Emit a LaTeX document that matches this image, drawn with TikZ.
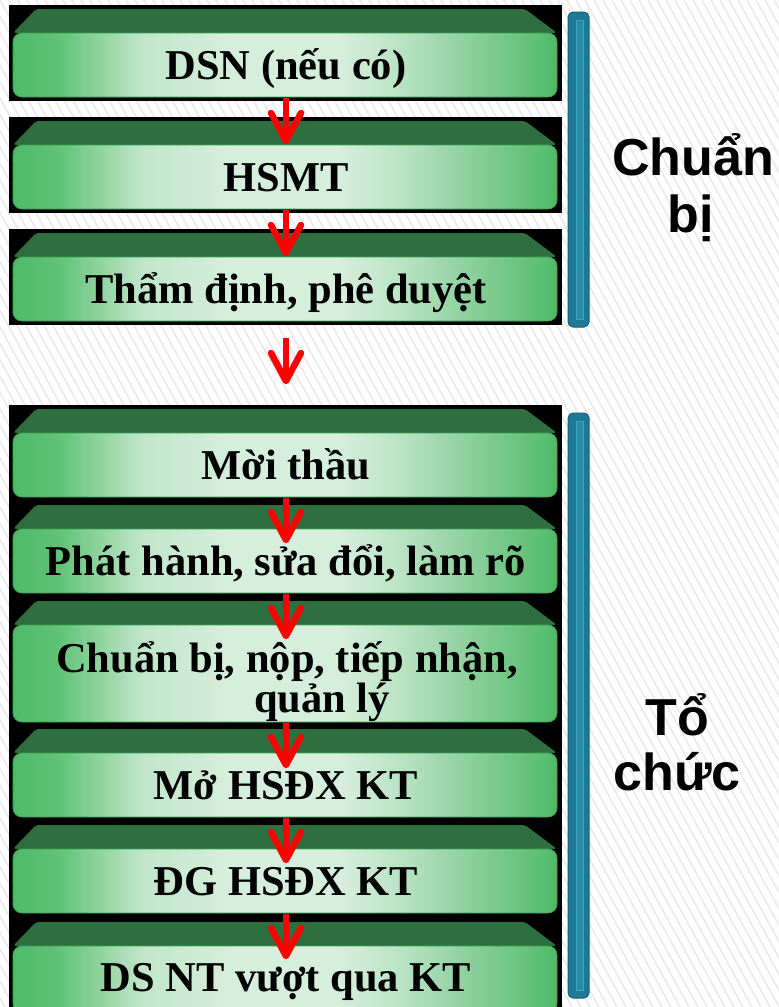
\documentclass[tikz,border=0pt]{standalone}
\usepackage{fontspec}
\setmainfont{Liberation Serif}
\newfontfamily\labfont{Liberation Sans}
\usetikzlibrary{calc}
\definecolor{gEdge}{RGB}{78,187,104}
\definecolor{gMid}{RGB}{140,208,156}
\definecolor{gLight}{RGB}{214,238,220}
\definecolor{gDark}{RGB}{45,111,63}
\definecolor{gLine}{RGB}{62,160,86}
\definecolor{hatchGray}{RGB}{234,234,234}
\definecolor{barTeal}{RGB}{31,121,149}
\definecolor{barDark}{RGB}{24,98,122}
\definecolor{barInner}{RGB}{38,138,168}
\definecolor{barInnerLine}{RGB}{60,165,196}
\definecolor{arrowRed}{RGB}{255,0,0}
\pgfdeclarehorizontalshading{frontshade}{100bp}{%
  color(0bp)=(gEdge); color(25bp)=(gEdge); color(29bp)=(gEdge!88!gLight);
  color(37bp)=(gLight!85!gEdge); color(45bp)=(gLight); color(55bp)=(gLight);
  color(60bp)=(gLight!82!gEdge); color(67bp)=(gMid); color(75bp)=(gEdge); color(100bp)=(gEdge)}
\newcommand\gbox[2]{%
  \fill[topface] (13,#1+24) -- (36,#1) -- (525,#1) -- (557,#1+24) -- cycle;
  \shadedraw[frontface] (13,#1+24) rectangle (557,#2);
}
\begin{document}
\begin{tikzpicture}[x=1pt,y=-1pt,
  topface/.style={fill=gDark, rounded corners=3pt},
  frontface/.style={shading=frontshade, draw=gLine, line width=0.8pt, rounded corners=9pt},
  boxtext/.style={font=\bfseries\fontsize{42.5}{40}\selectfont, anchor=base, inner sep=0pt, text=black},
  labtext/.style={font=\labfont\bfseries\fontsize{52}{57}\selectfont, anchor=base, inner sep=0pt, text=black},
  hatch/.style={draw=hatchGray, line width=1.6pt},
  shaft/.style={draw=arrowRed, line width=6.5pt},
  head/.style={draw=arrowRed, line width=6.5pt, line cap=round, line join=round},
  barout/.style={fill=barTeal, draw=barDark, line width=1pt, rounded corners=5pt},
  barin/.style={fill=barInner, draw=barInnerLine, line width=1pt}]
\useasboundingbox (0,0) rectangle (779,1007);
\fill[white] (0,0) rectangle (779,1007);
\begin{scope}
  \clip (0,0) rectangle (779,1007);
  \foreach \k in {-65,...,90} {
    \draw[hatch] (\k*9,0) -- (\k*9+554,1007);
  }
\end{scope}
% black backgrounds
\fill[black] (9,5) rectangle (562,101);
\fill[black] (9,117) rectangle (562,213);
\fill[black] (9,229) rectangle (562,325);
\fill[black] (9,405) rectangle (562,1012);
% boxes
\gbox{9}{97}
\gbox{121}{209}
\gbox{233}{321}
\gbox{409}{497}
\gbox{505}{593}
\gbox{601}{722}
\gbox{729}{817}
\gbox{825}{913}
\gbox{922}{1012}
% texts
\node[boxtext] (t1) at (286,79) {DSN (nếu có)};
\node[boxtext] (t2) at (286,191) {HSMT};
\node[boxtext] (t3) at (286,303) {Thẩm định, phê duyệt};
\node[boxtext] (t4) at (286,479) {Mời thầu};
\node[boxtext] (t5) at (286,575) {Phát hành, sửa đổi, làm rõ};
\node[boxtext] (t6a) at (287,672) {Chuẩn bị, nộp, tiếp nhận,};
\node[boxtext] (t6b) at (322,712) {quản lý};
\node[boxtext] (t7) at (286,799) {Mở HSĐX KT};
\node[boxtext] (t8) at (286,895) {ĐG HSĐX KT};
\node[boxtext] (t9) at (286,991) {DS NT vượt qua KT};
% bars
\draw[barout] (568,12) rectangle (589,327);
\draw[barin] (576,20) rectangle (583,319);
\draw[barout] (568,413) rectangle (589,998);
\draw[barin] (576,421) rectangle (583,990);
% labels
\node[labtext] (l1a) at (693,175) {Chuẩn};
\node[labtext] (l1b) at (691,232) {bị};
\node[labtext] (l2a) at (677,735) {Tổ};
\node[labtext] (l2b) at (677,790) {chức};
% arrows
\foreach \n/\s/\e in {a1/98/141, a2/210/253, a3/338/381, a4/498/540, a5/594/636, a6/723/765, a7/818/860, a8/914/956} {
  \coordinate (\n s) at (286,\s);
  \coordinate (\n e) at (286,\e);
  \draw[shaft] (\n s) -- (\n e);
  \draw[head] ($(\n e)+(-15,-28)$) -- (\n e) -- ($(\n e)+(15,-28)$);
}
\end{tikzpicture}
\end{document}
